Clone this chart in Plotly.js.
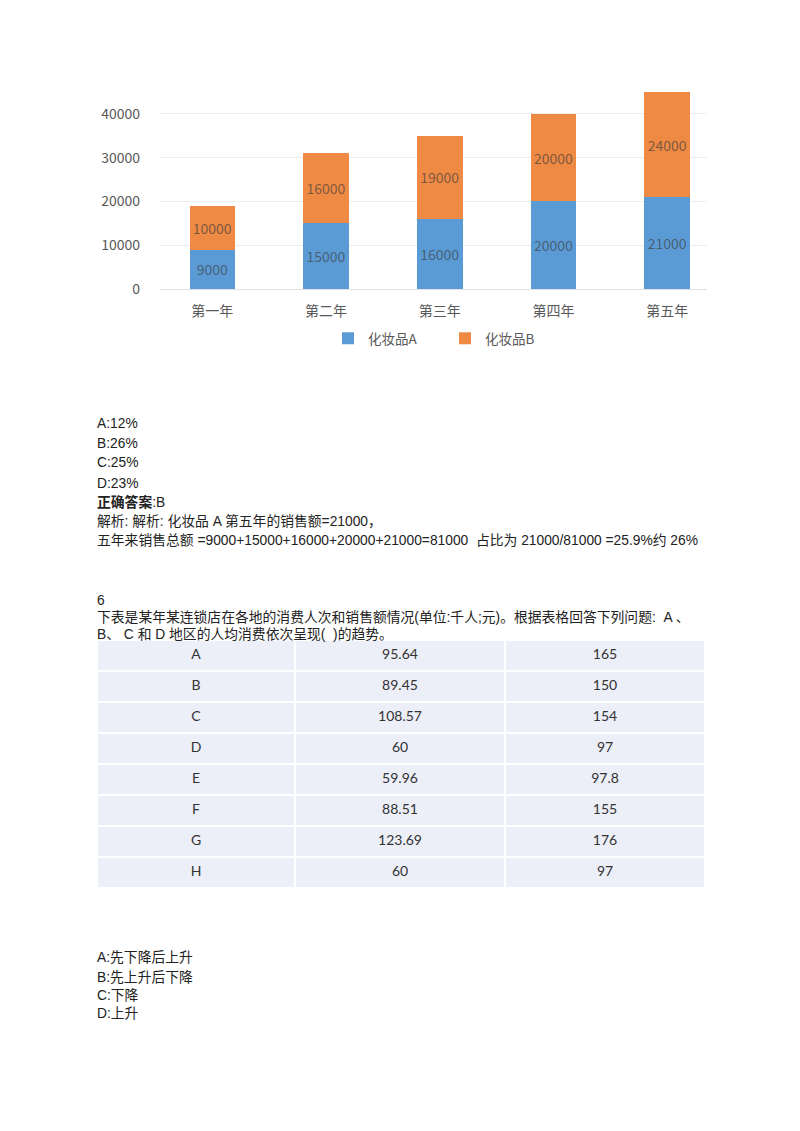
<!DOCTYPE html>
<html>
<head>
<meta charset="utf-8">
<script src="https://cdn.plot.ly/plotly-3.0.1.min.js"></script>
<style>
  html, body { margin: 0; padding: 0; background: #fff; }
  #chart { width: 800px; height: 1131px; }
</style>
</head>
<body>
<div id="chart"></div>
<script>
// chart data
var years = ['第一年', '第二年', '第三年', '第四年', '第五年'];
var productA = [9000, 15000, 16000, 20000, 21000];
var productB = [10000, 16000, 19000, 20000, 24000];
var yTicks = [0, 10000, 20000, 30000, 40000];

// table data
var regions = ['A', 'B', 'C', 'D', 'E', 'F', 'G', 'H'];
var visits = ['95.64', '89.45', '108.57', '60', '59.96', '88.51', '123.69', '60'];
var sales = ['165', '150', '154', '97', '97.8', '155', '176', '97'];

// question text
var options1 = ['A:12%', 'B:26%', 'C:25%', 'D:23%'];
var options2 = ['A:先下降后上升', 'B:先上升后下降', 'C:下降', 'D:上升'];

var W = 800, H = 1131;
function px(x) { return x / W; }
function py(y) { return 1 - y / H; }

var bodyFont = {family: 'Liberation Sans, Noto Sans CJK SC, sans-serif', size: 13.8, color: '#222'};
var chartFont = 'Noto Sans CJK SC, Liberation Sans, sans-serif';
var labelFont = {family: chartFont, size: 14, color: 'rgba(60,60,60,0.65)'};
var tableFont = {family: 'Lato, Open Sans, sans-serif', size: 14, color: '#333'};

var trace1 = {
    x: years,
    y: productA,
    name: '化妆品A',
    type: 'bar',
    marker: {color: '#5b9bd5'},
    text: productA.map(String),
    textposition: 'inside',
    insidetextanchor: 'middle',
    textfont: labelFont,
    hoverinfo: 'none'
  };

var trace2 = {
    x: years,
    y: productB,
    name: '化妆品B',
    type: 'bar',
    marker: {color: '#ee8a44'},
    text: productB.map(String),
    textposition: 'inside',
    insidetextanchor: 'middle',
    textfont: labelFont,
    hoverinfo: 'none'
  };

// first row goes in the header so the table has no separate header band
var cellFill = '#eceef8';
var table = {
    type: 'table',
    domain: {x: [px(97), px(705)], y: [py(888), py(640)]},
    columnwidth: [198, 210, 200],
    header: {
        values: [regions[0], visits[0], sales[0]],
        height: 31,
        fill: {color: cellFill},
        line: {color: '#ffffff', width: 2},
        font: tableFont,
        align: 'center'
    },
    cells: {
        values: [regions.slice(1), visits.slice(1), sales.slice(1)],
        height: 31,
        fill: {color: cellFill},
        line: {color: '#ffffff', width: 2},
        font: tableFont,
        align: 'center'
    }
  };

var annotations = [];
function addText(x, y, txt) {
    annotations.push({
        xref: 'paper', yref: 'paper', x: px(x), y: py(y),
        xanchor: 'left', yanchor: 'middle', showarrow: false,
        text: txt, font: bodyFont, align: 'left'
    });
}
var optY1 = [423, 443, 463, 483];
options1.forEach(function (t, i) { addText(95, optY1[i], t); });
addText(95, 502, '<b>正确答案</b>:B');
addText(95, 521, '解析: 解析: 化妆品 A 第五年的销售额=21000，');
addText(95, 540, '五年来销售总额 =9000+15000+16000+20000+21000=81000  占比为 21000/81000 =25.9%约 26%');
addText(95, 600, '6');
addText(95, 617, '下表是某年某连锁店在各地的消费人次和销售额情况(单位:千人;元)。根据表格回答下列问题:  A 、');
addText(95, 635, 'B、 C 和 D 地区的人均消费依次呈现(  )的趋势。');
var optY2 = [957, 977, 995, 1013];
options2.forEach(function (t, i) { addText(95, optY2[i], t); });

var layout = {
    width: W,
    height: H,
    margin: {l: 0, r: 0, t: 0, b: 0},
    paper_bgcolor: '#ffffff',
    plot_bgcolor: '#ffffff',
    barmode: 'stack',
    bargap: 0.6,
    showlegend: true,
    legend: {
        orientation: 'h',
        x: px(328), xanchor: 'left',
        y: py(323), yanchor: 'top',
        font: {family: chartFont, size: 13.5, color: '#595959'},
        traceorder: 'normal',
        entrywidth: 72,
        itemwidth: 30
    },
    xaxis: {
        domain: [px(160), px(707)],
        range: [-0.46, 4.35],
        showgrid: false,
        showline: false,
        ticks: '',
        ticklabelstandoff: 12,
        tickfont: {family: chartFont, size: 14, color: '#595959'},
        fixedrange: true
    },
    yaxis: {
        domain: [py(289), py(92)],
        range: [0, 45000],
        tickvals: yTicks,
        ticktext: yTicks.map(String),
        showgrid: true,
        gridcolor: '#ececec',
        zeroline: true,
        zerolinecolor: '#e0e0e0',
        showline: false,
        ticks: '',
        ticklabelstandoff: 19,
        tickfont: {family: chartFont, size: 14, color: '#595959'},
        fixedrange: true
    },
    annotations: annotations
  };

Plotly.newPlot('chart', [trace1, trace2, table], layout, {displayModeBar: false, staticPlot: true});
</script>
</body>
</html>
